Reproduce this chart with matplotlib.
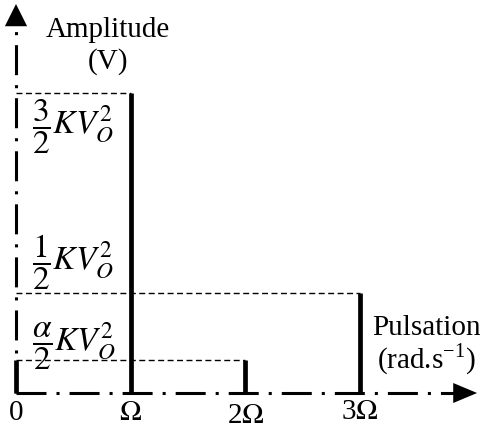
import numpy as np
import matplotlib.pyplot as plt

plt.rcParams['font.family'] = ['Liberation Serif', 'DejaVu Serif']
plt.rcParams['mathtext.fontset'] = 'stix'
plt.rcParams['lines.scale_dashes'] = False

# spectrum lines (pulsation in units of Omega, amplitude in units of K*V0^2)
alpha = 1 / 3
freqs = [0, 1, 2, 3]
amps = [alpha / 2, 3 / 2, alpha / 2, 1 / 2]
freq_labels = ['0', r'$\Omega$', r'2$\Omega$', r'3$\Omega$']
amp_labels = [r'$\dfrac{3}{2}KV_O^2$', r'$\dfrac{1}{2}KV_O^2$', r'$\dfrac{\alpha}{2}KV_O^2$']
amp_label_y = [1.33, 0.655, 0.23]

fig = plt.figure(figsize=(4.81, 4.28), dpi=100)
ax = fig.add_axes([0, 0, 1, 1])
ax.set_xlim(-0.1395, 4.054)
ax.set_ylim(-0.175, 1.965)
ax.axis('off')

x_end, y_end = 3.83, 1.83
dashdot = (21.6, 7.2, 2.2, 7.2)

# axes drawn as dash-dot lines with arrow heads
ax.plot([0, x_end], [0, 0], color='k', lw=2.2, dashes=dashdot, dash_capstyle='butt')
ax.plot([0, 0], [0, y_end], color='k', lw=2.2, dashes=dashdot, dash_capstyle='butt')
ax.annotate('', xy=(4.02, 0), xytext=(x_end, 0),
            arrowprops=dict(arrowstyle='-|>,head_length=0.86,head_width=0.36',
                            mutation_scale=20, color='k', lw=0, shrinkA=0, shrinkB=0))
ax.annotate('', xy=(0, 1.945), xytext=(0, y_end),
            arrowprops=dict(arrowstyle='-|>,head_length=0.8,head_width=0.4',
                            mutation_scale=20, color='k', lw=0, shrinkA=0, shrinkB=0))

# spectral lines
ax.vlines(freqs, 0, amps, color='k', lw=3.4)

# dashed guides to the y axis
for f, a in zip(freqs[1:], amps[1:]):
    ax.plot([0, f], [a, a], color='k', lw=1.0, dashes=(4.3, 2.5))

for f, lab, dy in zip(freqs, freq_labels, [-0.1, -0.1, -0.115, -0.095]):
    ax.text(f, dy, lab, ha='center', va='center', fontsize=21)

for ypos, lab in zip(amp_label_y, amp_labels):
    ax.text(0.14, ypos, lab, ha='left', va='center', fontsize=24)

ax.text(0.80, 1.815, 'Amplitude', ha='center', va='center', fontsize=21)
ax.text(0.80, 1.655, '(V)', ha='center', va='center', fontsize=21)
ax.text(3.58, 0.325, 'Pulsation', ha='center', va='center', fontsize=21)
ax.text(3.58, 0.165, r'(rad.s$^{\mathregular{-1}}$)', ha='center', va='center', fontsize=21)

fig.savefig('out.png', dpi=100)
